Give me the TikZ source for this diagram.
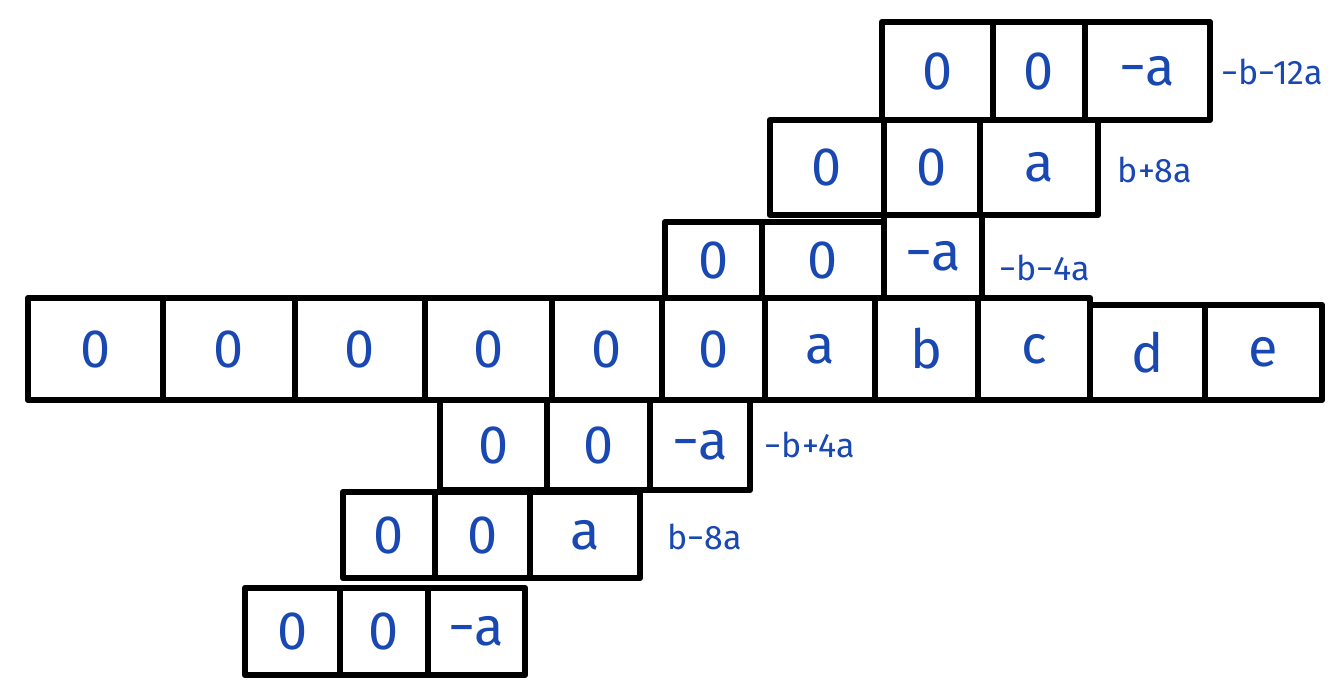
\documentclass[tikz,border=0pt]{standalone}
\usepackage{fontspec}
\newfontfamily\handfont{Fira Sans}
\usetikzlibrary{fit}
\definecolor{handblue}{RGB}{25,72,178}
\tikzset{
  cell/.style={draw=black, line width=6.5pt, line join=round, inner sep=0pt},
  celltext/.style={text=handblue, inner sep=0pt, font=\handfont\fontsize{54}{60}\selectfont},
  sidelab/.style={text=handblue, inner sep=0pt, font=\handfont\fontsize{34}{40}\selectfont}
}
\newcommand\cellbox[6]{\node[cell, fit={(#2,#3) (#4,#5)}] (#1) {};
  \node[celltext] (#1-t) at (#1.center) {#6};}
\begin{document}
\begin{tikzpicture}[x=1pt,y=-1pt]
\useasboundingbox (0,0) rectangle (1333,684);
% top row
\cellbox{ta}{882}{22}{993}{120}{0}
\cellbox{tb}{993}{22}{1085}{120}{0}
\cellbox{tc}{1085}{22}{1210}{120}{−a}
\node[sidelab] (ts) at (1272,72) {−b−12a};
% second row
\cellbox{sa}{770}{120}{884}{215}{0}
\cellbox{sb}{884}{120}{980}{215}{0}
\cellbox{sc}{980}{120}{1098}{215}{a}
\node[sidelab] (ss) at (1155,170) {b+8a};
% third row
\cellbox{ra}{665}{222}{762}{298}{0}
\cellbox{rb}{762}{222}{884}{298}{0}
\cellbox{rc}{884}{215}{982}{298}{−a}
\node[sidelab] (rs) at (1045,268) {−b−4a};
% main row
\cellbox{m1}{28}{298}{163}{400}{0}
\cellbox{m2}{163}{298}{295}{400}{0}
\cellbox{m3}{295}{298}{425}{400}{0}
\cellbox{m4}{425}{298}{552}{400}{0}
\cellbox{m5}{552}{298}{662}{400}{0}
\cellbox{m6}{662}{298}{765}{400}{0}
\cellbox{m7}{765}{298}{875}{400}{a}
\cellbox{m8}{875}{298}{978}{400}{b}
\cellbox{m9}{978}{298}{1090}{400}{c}
\cellbox{m10}{1090}{305}{1205}{400}{d}
\cellbox{m11}{1205}{305}{1322}{400}{e}
% row below
\cellbox{pa}{440}{400}{547}{490}{0}
\cellbox{pb}{547}{400}{650}{490}{0}
\cellbox{pc}{650}{400}{750}{490}{−a}
\node[sidelab] (ps) at (810,445) {−b+4a};
% next row
\cellbox{qa}{343}{492}{435}{578}{0}
\cellbox{qb}{435}{492}{530}{578}{0}
\cellbox{qc}{530}{492}{640}{578}{a}
\node[sidelab] (qs) at (705,537) {b−8a};
% bottom row
\cellbox{ua}{245}{588}{340}{675}{0}
\cellbox{ub}{340}{588}{428}{675}{0}
\cellbox{uc}{428}{588}{525}{675}{−a}
\end{tikzpicture}
\end{document}
